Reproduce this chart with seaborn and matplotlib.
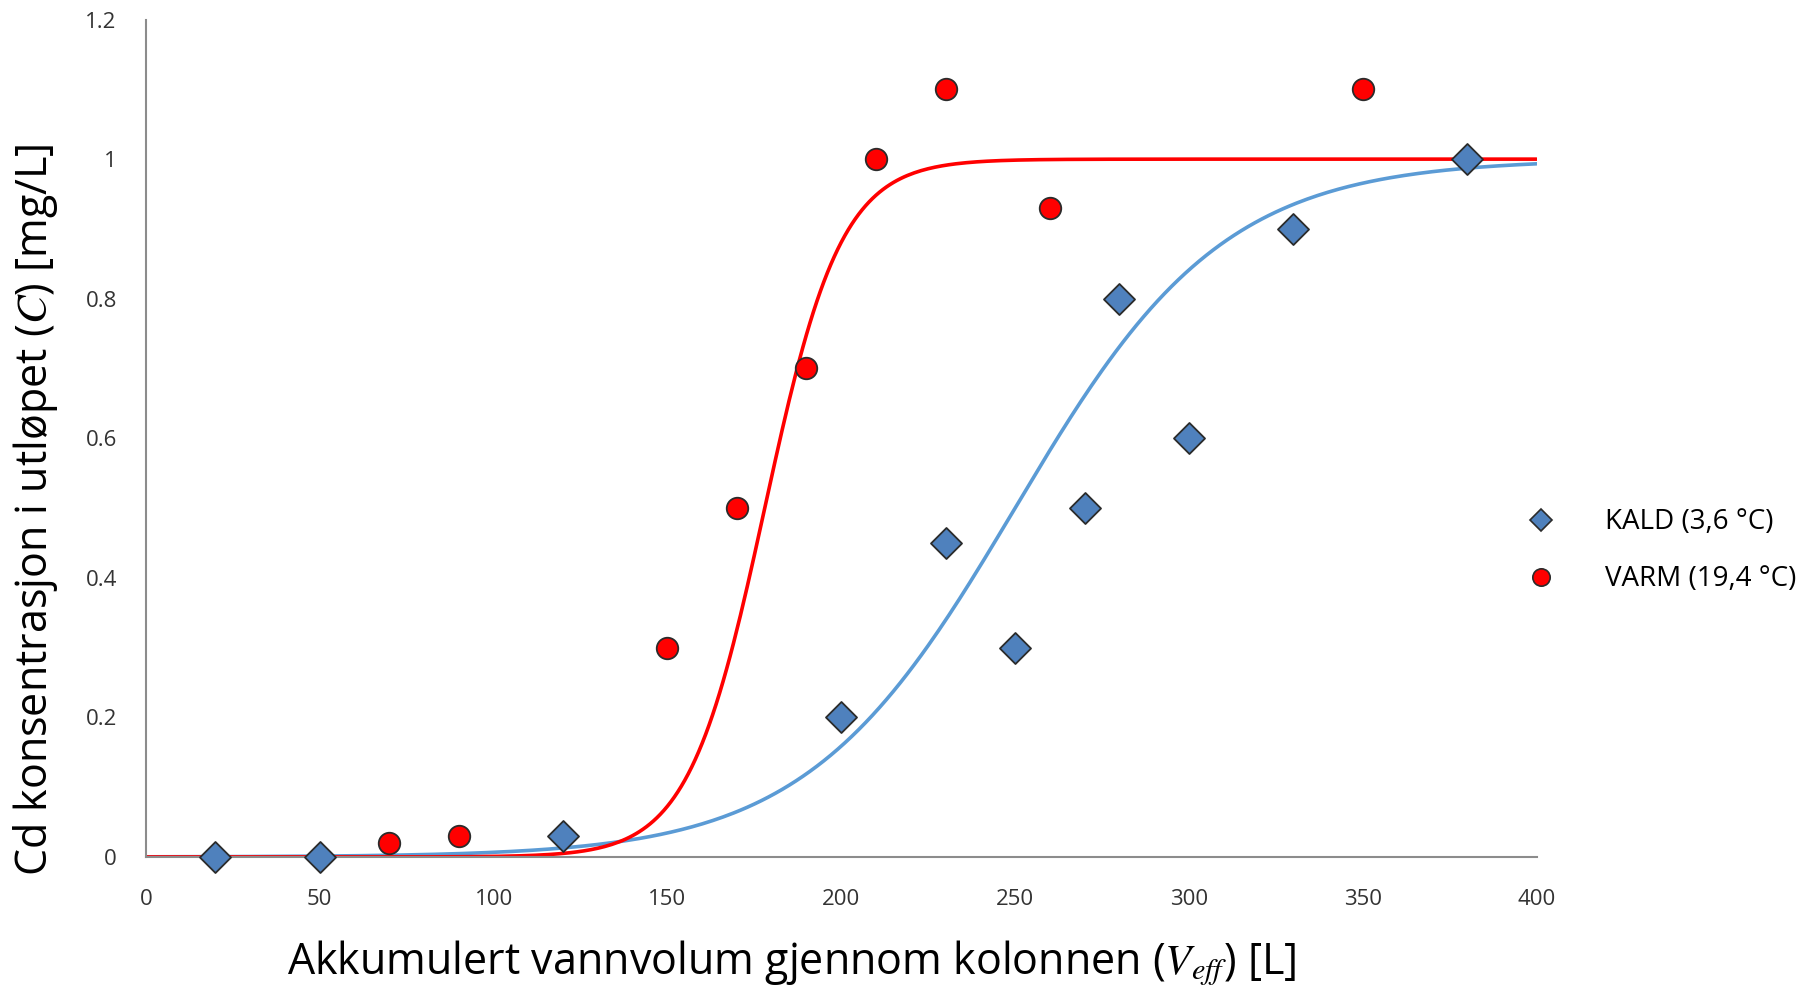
import numpy as np
import pandas as pd
import matplotlib
matplotlib.use("Agg")
import matplotlib.pyplot as plt
import seaborn as sns
from matplotlib.lines import Line2D

# Measured Cd in the column effluent
kald_v = [20, 50, 120, 200, 230, 250, 270, 280, 300, 330, 380]
kald_c = [0.0, 0.0, 0.03, 0.2, 0.45, 0.3, 0.5, 0.8, 0.6, 0.9, 1.0]
varm_v = [70, 90, 150, 170, 190, 210, 230, 260, 350]
varm_c = [0.02, 0.03, 0.3, 0.5, 0.7, 1.0, 1.1, 0.93, 1.1]

# Fitted breakthrough (Thomas / logistic) parameters: C0, V50, width
kald_fit = (1.0, 250.0, 30.0)
varm_fit = (1.0, 178.0, 11.0)

series_labels = ["KALD (3,6 °C)", "VARM (19,4 °C)"]
x_ticks = [0, 50, 100, 150, 200, 250, 300, 350, 400]
y_ticks = [0, 0.2, 0.4, 0.6, 0.8, 1.0, 1.2]
y_tick_labels = ["0", "0.2", "0.4", "0.6", "0.8", "1", "1.2"]

sns.set_theme(style="white")
plt.rcParams["font.family"] = ["Open Sans", "DejaVu Sans"]
plt.rcParams["mathtext.fontset"] = "stix"

obs = pd.concat([
    pd.DataFrame({"V": kald_v, "C": kald_c, "serie": series_labels[0]}),
    pd.DataFrame({"V": varm_v, "C": varm_c, "serie": series_labels[1]}),
])

v_grid = np.linspace(0, 400, 401)
def thomas(v, p):
    c0, v50, w = p
    return c0 / (1.0 + np.exp(-(v - v50) / w))

fit = pd.concat([
    pd.DataFrame({"V": v_grid, "C": thomas(v_grid, kald_fit), "serie": series_labels[0]}),
    pd.DataFrame({"V": v_grid, "C": thomas(v_grid, varm_fit), "serie": series_labels[1]}),
])

blue_line = "#5B9BD5"
red_line = "#FF0000"
blue_pt = "#4F81BD"
red_pt = "#FF0000"
edge = "#2B2B2B"

fig = plt.figure(figsize=(18.06, 9.98), dpi=100)
ax = fig.add_axes([0.0808, 0.1413, 0.77, 0.8391])

sns.lineplot(data=fit, x="V", y="C", hue="serie",
             palette={series_labels[0]: blue_line, series_labels[1]: red_line},
             linewidth=2.6, legend=False, ax=ax, zorder=2)
sns.scatterplot(data=obs[obs.serie == series_labels[0]], x="V", y="C",
                marker="D", s=250, color=blue_pt, edgecolor=edge, linewidth=1.3,
                legend=False, ax=ax, zorder=3, clip_on=False)
sns.scatterplot(data=obs[obs.serie == series_labels[1]], x="V", y="C",
                marker="o", s=240, color=red_pt, edgecolor=edge, linewidth=1.3,
                legend=False, ax=ax, zorder=3, clip_on=False)

ax.set_xlim(0, 400)
ax.set_ylim(0, 1.2)
ax.set_xticks(x_ticks)
ax.set_xticklabels([str(t) for t in x_ticks])
ax.set_yticks(y_ticks)
ax.set_yticklabels(y_tick_labels)

for side in ["top", "right"]:
    ax.spines[side].set_visible(False)
for side in ["left", "bottom"]:
    ax.spines[side].set_color("#8C8C8C")
    ax.spines[side].set_linewidth(1.5)
ax.tick_params(axis="both", which="major", direction="out", length=9,
               width=1.5, color="#8C8C8C", labelsize=16, labelcolor="#333333")
ax.tick_params(axis="x", pad=14)
ax.tick_params(axis="y", pad=12)

ax.set_xlabel(r"Akkumulert vannvolum gjennom kolonnen ($V_{eff}$) [L]",
              fontsize=31, color="black")
ax.set_ylabel(r"Cd konsentrasjon i utløpet ($C$) [mg/L]",
              fontsize=31, color="black")
ax.xaxis.set_label_coords(0.464, -0.098)
ax.yaxis.set_label_coords(-0.062, 0.415)

handles = [
    Line2D([0], [0], marker="D", linestyle="none", markersize=11,
           markerfacecolor=blue_pt, markeredgecolor=edge, markeredgewidth=1.2),
    Line2D([0], [0], marker="o", linestyle="none", markersize=12.5,
           markerfacecolor=red_pt, markeredgecolor=edge, markeredgewidth=1.2),
]
fig.legend(handles, series_labels, loc="center left",
           bbox_to_anchor=(0.824, 0.448), frameon=False, fontsize=20,
           handletextpad=1.3, labelspacing=1.05, labelcolor="black")

fig.savefig("out.png", dpi=100, facecolor="white")
